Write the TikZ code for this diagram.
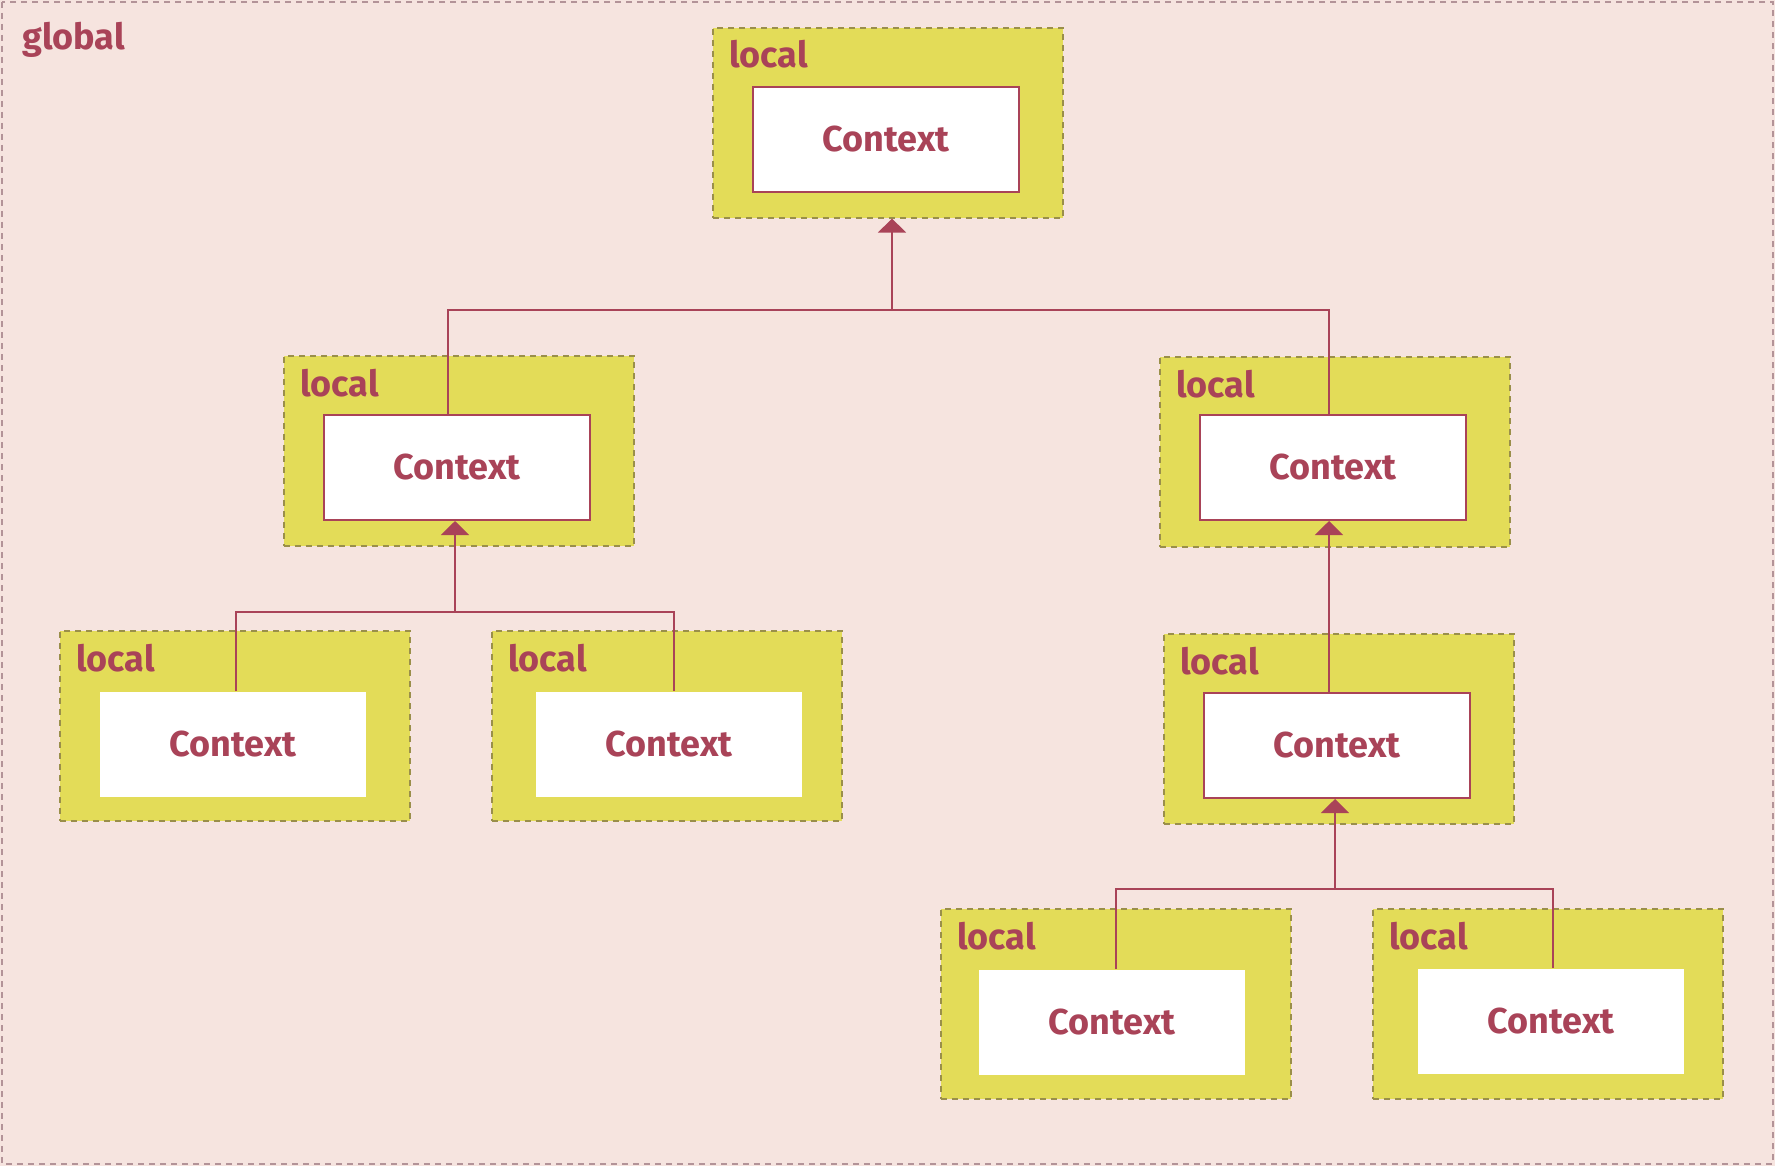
\documentclass[tikz,border=0pt]{standalone}
\usepackage{fontspec}
\setmainfont{Fira Sans}
\usetikzlibrary{arrows.meta}
\definecolor{bgpink}{HTML}{F6E4DF}
\definecolor{locyellow}{HTML}{E3DC58}
\definecolor{rose}{HTML}{A94358}
\definecolor{locborder}{HTML}{9A8F4A}
\definecolor{outborder}{HTML}{B39398}
\tikzset{
  lbox/.style={draw=locborder, fill=locyellow, dash pattern=on 3pt off 2.5pt, line width=0.8pt,
    rectangle, anchor=north west, minimum width=175pt, minimum height=95pt, inner sep=0pt},
  cbox/.style={draw=rose, fill=white, line width=1pt, rectangle, anchor=north west,
    minimum width=133pt, minimum height=52.5pt, inner sep=0pt, text=rose,
    font=\fontsize{18}{20}\selectfont\bfseries},
  leafbox/.style={cbox, draw=none},
  lbl/.style={anchor=base west, text=rose, inner sep=0pt, font=\fontsize{18}{20}\selectfont\bfseries},
  conn/.style={draw=rose, line width=1pt},
  arr/.style={conn, -{Triangle[width=14pt,length=7pt]}}
}
\begin{document}
\begin{tikzpicture}[x=0.5pt,y=-0.5pt]
\useasboundingbox (0,0) rectangle (1775,1166);
\fill[bgpink] (0,0) rectangle (1775,1166);
\draw[outborder, line width=0.7pt, dash pattern=on 3pt off 2.5pt] (2,2) rectangle (1773,1164);
\node[lbl] (glob) at (22,50) {global};
% local boxes
\node[lbox] (LT) at (712,27) {};
\node[lbox] (LML) at (283,355) {};
\node[lbox] (LMR) at (1159,356) {};
\node[lbox] (LRM) at (1163,633) {};
\node[lbox] (LL1) at (59,630) {};
\node[lbox] (LL2) at (491,630) {};
\node[lbox] (LR1) at (940,908) {};
\node[lbox] (LR2) at (1372,908) {};
% local labels
\foreach \n/\m in {LT/tT,LML/tML,LMR/tMR,LRM/tRM,LL1/tL1,LL2/tL2,LR1/tR1,LR2/tR2}{
  \node[lbl] (\m) at ([xshift=8.5pt,yshift=-20.5pt]\n.north west) {local};
}
% context boxes
\node[cbox] (CT) at (752,86) {Context};
\node[cbox] (CML) at (323,414) {Context};
\node[cbox] (CMR) at (1199,414) {Context};
\node[cbox] (CRM) at (1203,692) {Context};
\node[leafbox] (CL1) at (99,691) {Context};
\node[leafbox] (CL2) at (535,691) {Context};
\node[leafbox] (CR1) at (978,969) {Context};
\node[leafbox] (CR2) at (1417,968) {Context};
% junctions
\coordinate (j1) at (892,310);
\coordinate (j2) at (455,612);
\coordinate (j3) at (1335,889);
\coordinate (xML) at (448,0);
\coordinate (xMR) at (1329,0);
\coordinate (xL1) at (236,0);
\coordinate (xL2) at (674,0);
\coordinate (xR1) at (1116,0);
\coordinate (xR2) at (1553,0);
% connectors
\draw[conn] (CML.north -| xML) |- (j1) -| (CMR.north -| xMR);
\draw[arr] (j1) -- (LT.south -| j1);
\draw[conn] (CL1.north -| xL1) |- (j2) -| (CL2.north -| xL2);
\draw[arr] (j2) -- (CML.south -| j2);
\draw[arr] (CRM.north -| xMR) -- (CMR.south -| xMR);
\draw[conn] (CR1.north -| xR1) |- (j3) -| (CR2.north -| xR2);
\draw[arr] (j3) -- (CRM.south -| j3);
\end{tikzpicture}
\end{document}
